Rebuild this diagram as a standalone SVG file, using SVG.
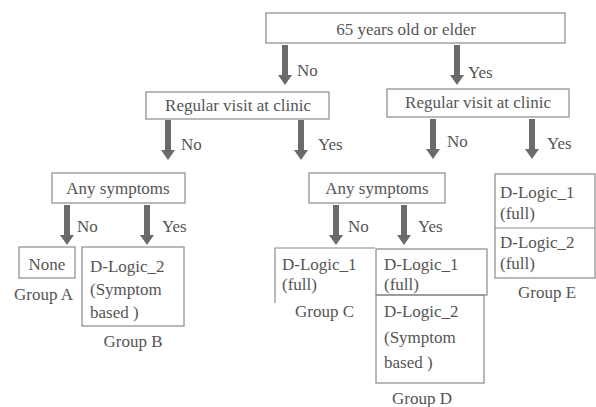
<svg xmlns="http://www.w3.org/2000/svg" width="596" height="407" viewBox="0 0 596 407" font-family="'Liberation Serif', 'DejaVu Serif', serif">
<style>
text{font-family:'Liberation Serif','DejaVu Serif',serif;font-size:17px;fill:#555}
.c{text-anchor:middle}
.b{fill:none;stroke:#8a8a8a;stroke-width:1.2}
.a{fill:#6b6b6b}
</style>
<defs>
<path id="arr" d="M-3,0 H3 V30 H7 L0,40 L-7,30 H-3 Z"/>
</defs>
<rect width="596" height="407" fill="#fff"/>
<g id="connectors">
<use href="#arr" class="a" x="285" y="45"/>
<use href="#arr" class="a" x="457" y="45"/>
<use href="#arr" class="a" x="168" y="120"/>
<use href="#arr" class="a" x="301" y="120"/>
<use href="#arr" class="a" x="433" y="119"/>
<use href="#arr" class="a" x="532" y="119"/>
<use href="#arr" class="a" x="67" y="205"/>
<use href="#arr" class="a" x="147" y="205"/>
<use href="#arr" class="a" x="336" y="205"/>
<use href="#arr" class="a" x="404" y="205"/>
<text x="297" y="76">No</text>
<text x="468" y="78">Yes</text>
<text x="181" y="150">No</text>
<text x="318" y="150">Yes</text>
<text x="447" y="147">No</text>
<text x="547" y="149">Yes</text>
<text x="77" y="232">No</text>
<text x="162" y="232">Yes</text>
<text x="348" y="232">No</text>
<text x="418" y="232">Yes</text>
</g>
<g id="n65">
<rect class="b" x="266" y="13" width="299" height="30"/>
<text class="c" x="406" y="35">65 years old or elder</text>
</g>
<g id="visitL">
<rect class="b" x="146" y="92" width="183" height="27"/>
<text class="c" x="238" y="111">Regular visit at clinic</text>
</g>
<g id="visitR">
<rect class="b" x="387" y="89" width="182" height="28"/>
<text class="c" x="478" y="108">Regular visit at clinic</text>
</g>
<g id="symL">
<rect class="b" x="52" y="173" width="133" height="30"/>
<text class="c" x="118" y="194">Any symptoms</text>
</g>
<g id="symM">
<rect class="b" x="309" y="173" width="136" height="30"/>
<text class="c" x="377" y="194">Any symptoms</text>
</g>
<g id="groupA">
<rect class="b" x="19" y="247" width="56" height="31"/>
<text class="c" x="47" y="270">None</text>
<text x="14" y="300">Group A</text>
</g>
<g id="groupB">
<rect class="b" x="82" y="247" width="102" height="79"/>
<text x="90" y="272">D-Logic_2</text>
<text x="90" y="295">(Symptom</text>
<text x="90" y="318">based )</text>
<text class="c" x="133" y="347">Group B</text>
</g>
<g id="groupC">
<path class="b" d="M275,303 V248 H375"/>
<text x="282" y="270">D-Logic_1</text>
<text x="282" y="290">(full)</text>
<text x="295" y="317">Group C</text>
</g>
<g id="groupD">
<rect class="b" x="376" y="249" width="111" height="46"/>
<text x="384" y="270">D-Logic_1</text>
<text x="384" y="290">(full)</text>
<rect class="b" x="376" y="295" width="108" height="88"/>
<text x="384" y="317">D-Logic_2</text>
<text x="384" y="343">(Symptom</text>
<text x="384" y="368">based )</text>
<text class="c" x="422" y="404">Group D</text>
</g>
<g id="groupE">
<rect class="b" x="495" y="174" width="100" height="104"/>
<line class="b" x1="495" y1="228" x2="595" y2="228"/>
<text x="500" y="198">D-Logic_1</text>
<text x="500" y="219">(full)</text>
<text x="500" y="248">D-Logic_2</text>
<text x="500" y="269">(full)</text>
<text class="c" x="547" y="298">Group E</text>
</g>
</svg>
